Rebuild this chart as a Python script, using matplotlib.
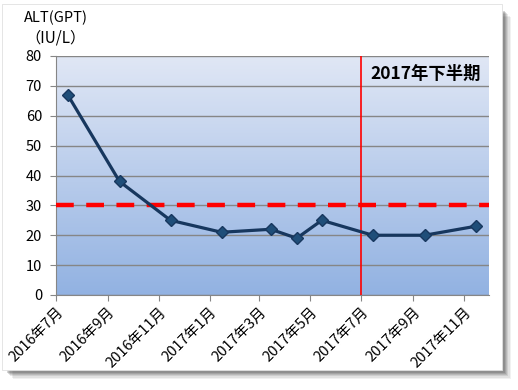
import numpy as np
import pandas as pd
import matplotlib
matplotlib.use("Agg")
from matplotlib import pyplot as plt
import matplotlib.dates as mdates
from matplotlib.patches import Rectangle

plt.rcParams['font.family'] = ['Noto Sans CJK JP', 'DejaVu Sans']

dates = pd.to_datetime(['2016-07-15', '2016-09-15', '2016-11-15', '2017-01-15',
                        '2017-03-15', '2017-04-15', '2017-05-15', '2017-07-15',
                        '2017-09-15', '2017-11-15'])
alt = [67, 38, 25, 21, 22, 19, 25, 20, 20, 23]
limit = 30
half_start = pd.Timestamp('2017-07-01')
tick_dates = pd.date_range('2016-07-01', '2017-11-01', freq='2MS')
tick_labels = [f'{d.year}年{d.month}月' for d in tick_dates]

fig = plt.figure(figsize=(5.18, 3.9), dpi=100)
fig.patch.set_facecolor('white')

# frame with soft shadow
for i, a in enumerate([0.07, 0.09, 0.12, 0.15, 0.18, 0.22]):
    off = 9 - i * 1.3
    fig.patches.append(Rectangle(((4 + off) / 518, 1 - (370 + off) / 390), 498 / 518, 362 / 390,
                                 transform=fig.transFigure, facecolor='#444444', alpha=a,
                                 edgecolor='none', zorder=-5))
fig.patches.append(Rectangle((2 / 518, 1 - 370 / 390), 500 / 518, 366 / 390,
                             transform=fig.transFigure, facecolor='white',
                             edgecolor='#e0e0e0', lw=0.6, zorder=-4))

ax = fig.add_axes([56 / 518, 1 - 295 / 390, (489 - 56) / 518, (295 - 56) / 390])
ax.set_facecolor('none')
x0, x1 = pd.Timestamp('2016-07-01'), pd.Timestamp('2017-12-01')

# gradient background
grad = np.linspace(0, 1, 256).reshape(-1, 1)
top = np.array([224, 231, 245]) / 255
bot = np.array([146, 178, 226]) / 255
img = top + (bot - top) * grad[:, :, None] * np.ones((1, 1, 3))
ax.imshow(img, aspect='auto', extent=[mdates.date2num(x0), mdates.date2num(x1), 0, 80],
          zorder=0, origin='upper')
ax.set_xlim(x0, x1)
ax.set_ylim(0, 80)

ax.set_yticks(range(0, 81, 10))
ax.yaxis.grid(True, color='#868686', lw=1.0, zorder=1)
ax.set_axisbelow(False)
ax.set_xticks(tick_dates)
ax.set_xticklabels(tick_labels, rotation=45, ha='right', rotation_mode='anchor', fontsize=10.5)
ax.tick_params(axis='y', labelsize=10.5, length=4, color='#868686', pad=6)
ax.tick_params(axis='x', length=4, color='#868686', pad=3)
for s in ['top', 'right']:
    ax.spines[s].set_visible(False)
for s in ['left', 'bottom']:
    ax.spines[s].set_color('#868686')

ax.axhline(limit, color='#ff0000', lw=3.2, dashes=(4, 2.8), zorder=3)
ax.axvline(half_start, color='#ff0000', lw=1.2, zorder=3)
ax.plot(dates, alt, color='#17375e', lw=2.3, marker='D', markersize=6,
        markerfacecolor='#1f4e79', markeredgecolor='#17375e', zorder=4)

ax.text(0.725, 0.925, '2017年下半期', transform=ax.transAxes, fontsize=12.5,
        fontweight='bold', ha='left', va='center')

fig.text(24 / 518, 1 - 18 / 390, 'ALT(GPT)', fontsize=10.5, va='center', ha='left')
fig.text(25 / 518, 1 - 38 / 390, '（IU/L）', fontsize=11, va='center', ha='left')

fig.savefig('out.png', dpi=100)
